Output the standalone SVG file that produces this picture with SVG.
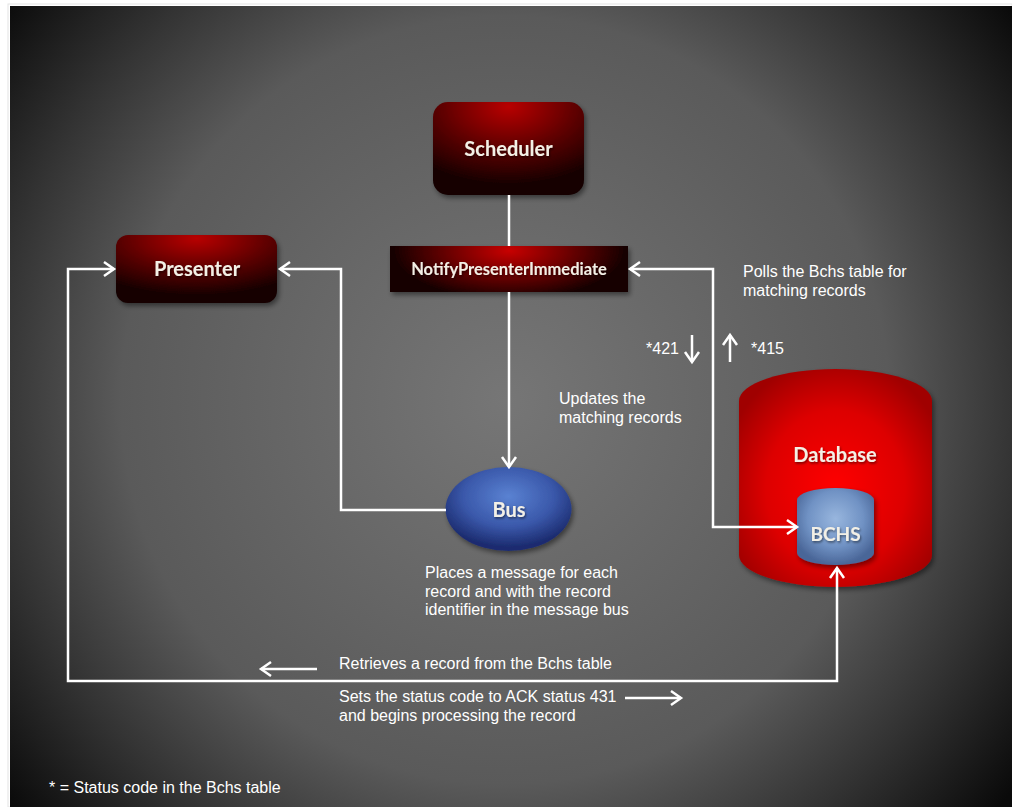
<svg xmlns="http://www.w3.org/2000/svg" width="1012" height="807" viewBox="0 0 1012 807">
<defs>
<radialGradient id="bg" gradientUnits="userSpaceOnUse" cx="505" cy="400" r="640">
<stop offset="0" stop-color="#767676"/>
<stop offset="0.6" stop-color="#5a5a5a"/>
<stop offset="0.8" stop-color="#333333"/>
<stop offset="1" stop-color="#0a0a0a"/>
</radialGradient>
<radialGradient id="redbox" cx="0.5" cy="0.05" r="0.85" fx="0.5" fy="0.05">
<stop offset="0" stop-color="#b80000"/>
<stop offset="0.55" stop-color="#5a0000"/>
<stop offset="1" stop-color="#140000"/>
</radialGradient>
<radialGradient id="redbar" cx="0.5" cy="0.1" r="0.5" fx="0.5" fy="0.1" gradientTransform="translate(0.5 0.1) scale(1 2.2) translate(-0.5 -0.1)">
<stop offset="0" stop-color="#c80000"/>
<stop offset="0.6" stop-color="#5a0000"/>
<stop offset="1" stop-color="#120000"/>
</radialGradient>
<radialGradient id="dbred" cx="0.5" cy="0.55" r="0.6">
<stop offset="0" stop-color="#ff0000"/>
<stop offset="0.6" stop-color="#dd0000"/>
<stop offset="1" stop-color="#a00000"/>
</radialGradient>
<radialGradient id="bchsblue" cx="0.5" cy="0.4" r="0.6">
<stop offset="0" stop-color="#98b6de"/>
<stop offset="0.6" stop-color="#7092c4"/>
<stop offset="1" stop-color="#4a6698"/>
</radialGradient>
<radialGradient id="busblue" cx="0.5" cy="0.35" r="0.6">
<stop offset="0" stop-color="#5a82d2"/>
<stop offset="0.6" stop-color="#3a58aa"/>
<stop offset="1" stop-color="#1c2c70"/>
</radialGradient>
<filter id="sh" x="-10%" y="-10%" width="125%" height="130%">
<feDropShadow dx="2" dy="3" stdDeviation="2.5" flood-color="#000" flood-opacity="0.45"/>
</filter>
<filter id="tsh" x="-10%" y="-20%" width="125%" height="150%">
<feDropShadow dx="1" dy="1.5" stdDeviation="1" flood-color="#000" flood-opacity="0.5"/>
</filter>
<marker id="arr" markerUnits="userSpaceOnUse" markerWidth="16" markerHeight="18" viewBox="0 0 16 18" refX="13" refY="9" orient="auto-start-reverse">
<path d="M3,2 L13,9 L3,16" fill="none" stroke="#ffffff" stroke-width="2.5"/>
</marker>
<style>
.conn{fill:none;stroke:#ffffff;stroke-width:2.5}
.lbl{font-family:"Liberation Sans",Arial,sans-serif;font-size:16px;fill:#ffffff}
.node{font-family:Lato,"Liberation Sans",sans-serif;font-weight:bold;fill:#f3f0e6;text-anchor:middle}
</style>
</defs>

<rect x="0" y="0" width="1012" height="807" fill="#ffffff"/>
<rect x="8" y="4" width="1004" height="803" fill="none" stroke="#e4e4e4" stroke-width="1"/>
<rect x="10" y="6" width="1002" height="801" fill="url(#bg)"/>

<g id="scheduler">
<rect x="433" y="102" width="151" height="93" rx="15" fill="url(#redbox)" filter="url(#sh)"/>
<text class="node" x="508.5" y="156" font-size="20" filter="url(#tsh)">Scheduler</text>
</g>

<g id="presenter">
<rect x="116" y="235" width="161" height="68" rx="12" fill="url(#redbox)" filter="url(#sh)"/>
<text class="node" x="197" y="276" font-size="20" filter="url(#tsh)">Presenter</text>
</g>

<g id="notify">
<rect x="390" y="246" width="238" height="46" fill="url(#redbar)" filter="url(#sh)"/>
<text class="node" x="509" y="275" font-size="16.5" filter="url(#tsh)">NotifyPresenterImmediate</text>
</g>

<g id="bus">
<ellipse cx="508.5" cy="509" rx="63" ry="42" fill="url(#busblue)" filter="url(#sh)"/>
<text class="node" x="509" y="517" font-size="20" filter="url(#tsh)">Bus</text>
</g>

<g id="database">
<path d="M739,401 A96.5,32 0 0 1 932,401 L932,555 A96.5,32 0 0 1 739,555 Z" fill="url(#dbred)" filter="url(#sh)"/>
<text class="node" x="835" y="462" font-size="20" filter="url(#tsh)">Database</text>
</g>

<g id="bchs">
<path d="M797,500 A38.5,12 0 0 1 874,500 L874,553 A38.5,12 0 0 1 797,553 Z" fill="url(#bchsblue)" filter="url(#sh)"/>
<text class="node" x="835.5" y="541" font-size="19" filter="url(#tsh)">BCHS</text>
</g>

<g id="connectors">
<line class="conn" x1="509" y1="195" x2="509" y2="246"/>
<line class="conn" x1="509" y1="292" x2="509" y2="467" marker-end="url(#arr)"/>
<path class="conn" d="M446,510 H341 V269 H280" marker-end="url(#arr)"/>
<path class="conn" d="M837,568 V681 H68 V269 H114" marker-start="url(#arr)" marker-end="url(#arr)"/>
<path class="conn" d="M797,527 H713 V269 H630" marker-start="url(#arr)" marker-end="url(#arr)"/>
<line class="conn" x1="692" y1="335" x2="692" y2="362" marker-end="url(#arr)"/>
<line class="conn" x1="730" y1="362" x2="730" y2="335" marker-end="url(#arr)"/>
<line class="conn" x1="317" y1="669" x2="261" y2="669" marker-end="url(#arr)"/>
<line class="conn" x1="625" y1="698" x2="681" y2="698" marker-end="url(#arr)"/>
</g>

<g id="labels">
<text class="lbl" x="743" y="277">Polls the Bchs table for</text>
<text class="lbl" x="743" y="296">matching records</text>
<text class="lbl" x="646" y="354">*421</text>
<text class="lbl" x="751" y="354">*415</text>
<text class="lbl" x="559" y="404">Updates the</text>
<text class="lbl" x="559" y="423">matching records</text>
<text class="lbl" x="425" y="578">Places a message for each</text>
<text class="lbl" x="425" y="597">record and with the record</text>
<text class="lbl" x="425" y="615">identifier in the message bus</text>
<text class="lbl" x="339" y="669">Retrieves a record from the Bchs table</text>
<text class="lbl" x="339" y="702">Sets the status code to ACK status 431</text>
<text class="lbl" x="339" y="721">and begins processing the record</text>
<text class="lbl" x="49" y="793">* = Status code in the Bchs table</text>
</g>
</svg>
